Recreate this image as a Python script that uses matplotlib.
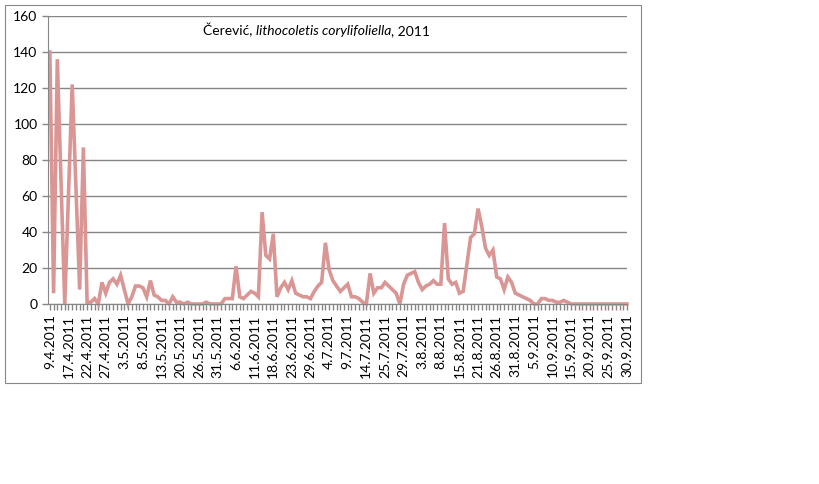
import matplotlib
matplotlib.use("Agg")
import matplotlib.pyplot as plt
from matplotlib.patches import Rectangle

# data: one value per sampling date (156 dates)
values = [
	140, 6, 136, 68, 0, 61, 122, 65, 8, 87,
	1, 1, 3, 0, 12, 6, 12, 14, 11, 16,
	8, 0, 4, 10, 10, 9, 4, 13, 5, 4,
	2, 2, 0, 4, 1, 1, 0, 1, 0, 0,
	0, 0, 1, 0, 0, 0, 0, 3, 3, 3,
	21, 4, 3, 5, 7, 6, 4, 51, 27, 25,
	39, 4, 9, 12, 8, 13, 6, 5, 4, 4,
	3, 7, 10, 12, 34, 19, 13, 10, 7, 9,
	11, 4, 4, 3, 1, 0, 17, 6, 9, 9,
	12, 10, 8, 6, 0, 11, 16, 17, 18, 12,
	8, 10, 11, 13, 11, 11, 45, 14, 11, 12,
	6, 7, 22, 37, 39, 53, 43, 31, 27, 30,
	15, 14, 8, 15, 12, 6, 5, 4, 3, 2,
	0, 0, 3, 3, 2, 2, 1, 1, 2, 1,
	0, 0, 0, 0, 0, 0, 0, 0, 0, 0,
	0, 0, 0, 0, 0, 0,
]

# every fifth date is labelled on the axis
tick_labels = [
	"9.4.2011", "17.4.2011", "22.4.2011", "27.4.2011", "3.5.2011",
	"8.5.2011", "13.5.2011", "20.5.2011", "26.5.2011", "31.5.2011",
	"6.6.2011", "11.6.2011", "18.6.2011", "23.6.2011", "29.6.2011",
	"4.7.2011", "9.7.2011", "14.7.2011", "25.7.2011", "29.7.2011",
	"3.8.2011", "8.8.2011", "15.8.2011", "21.8.2011", "26.8.2011",
	"31.8.2011", "5.9.2011", "10.9.2011", "15.9.2011", "20.9.2011",
	"25.9.2011", "30.9.2011",
]
label_step = 5

line_color = "#d99694"
grid_color = "#868686"

def main():
	plt.rcParams["font.family"] = ["Lato", "DejaVu Sans"]
	fig = plt.figure(figsize=(8.19, 4.84), dpi=100)

	# outer chart border like the excel chart area
	fig.patches.append(Rectangle((5/819, 101/484), 636/819, 378/484,
		transform=fig.transFigure, fill=False, edgecolor="#888888", linewidth=0.8))

	ax = fig.add_axes([48/819, 180/484, 579/819, 288/484])
	x = list(range(len(values)))
	ax.plot(x, values, color=line_color, linewidth=2.6, solid_joinstyle="miter", clip_on=False)

	ax.set_xlim(-0.5, len(values) - 1)
	ax.set_ylim(0, 160)
	ax.set_yticks(range(0, 161, 20))
	ax.yaxis.grid(True, color=grid_color, linewidth=1)
	ax.set_axisbelow(True)

	ax.set_xticks(range(0, len(values), label_step))
	ax.set_xticklabels(tick_labels, rotation=90, fontsize=10)
	ax.set_xticks(x, minor=True)
	ax.tick_params(axis="x", which="both", direction="out", length=4, color=grid_color, width=1)
	ax.tick_params(axis="y", direction="out", length=4, color=grid_color, width=1, labelsize=10)

	for side in ["top", "right"]:
		ax.spines[side].set_visible(False)
	for side in ["left", "bottom"]:
		ax.spines[side].set_color(grid_color)

	# title with the species name in italics
	t1 = ax.text(0.268, 0.952, "Čerević, ", transform=ax.transAxes, fontsize=10, va="center")
	t2 = ax.annotate("lithocoletis corylifoliella", xy=(1, 0), xycoords=t1,
		va="bottom", fontsize=10, style="italic")
	ax.annotate(", 2011", xy=(1, 0), xycoords=t2, va="bottom", fontsize=10)

	fig.savefig("out.png", dpi=100)
	plt.close(fig)

if __name__ == "__main__":
	main()
